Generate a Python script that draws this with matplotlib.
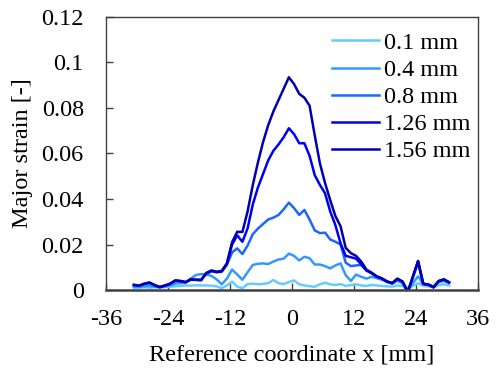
import matplotlib
matplotlib.use('Agg')
import matplotlib.pyplot as plt
from matplotlib.ticker import FuncFormatter

# reference coordinate x [mm]
x_mm = [-30.6, -29.6, -28.6, -27.6, -26.6, -25.6, -24.6, -23.6, -22.6, -21.6,
        -20.6, -19.6, -18.6, -17.6, -16.6, -15.6, -14.6, -13.6, -12.6, -11.6,
        -10.6, -9.6, -8.6, -7.6, -6.6, -5.6, -4.6, -3.6, -2.6, -1.6,
        -0.6, 0.4, 1.4, 2.4, 3.4, 4.4, 5.4, 6.4, 7.4, 8.4,
        9.4, 10.4, 11.4, 12.4, 13.4, 14.4, 15.4, 16.4, 17.4, 18.4,
        19.4, 20.4, 21.4, 22.4, 23.4, 24.4, 25.4, 26.4, 27.4, 28.4,
        29.4, 30.4]

strain_01 = [0.0008, 0.0010, 0.0012, 0.0010, 0.0012, 0.0010, 0.0013, 0.0015, 0.0016, 0.0018,
             0.0020, 0.0019, 0.0021, 0.0020, 0.0020, 0.0019, 0.0016, 0.0008, 0.0020, 0.0037,
             0.0015, 0.0008, 0.0026, 0.0028, 0.0025, 0.0027, 0.0030, 0.0044, 0.0030, 0.0026,
             0.0035, 0.0042, 0.0025, 0.0020, 0.0017, 0.0014, 0.0025, 0.0032, 0.0025, 0.0022,
             0.0026, 0.0018, 0.0022, 0.0025, 0.0020, 0.0018, 0.0022, 0.0020, 0.0018, 0.0016,
             0.0015, 0.0020, 0.0018, 0.0005, 0.0018, 0.0030, 0.0018, 0.0016, 0.0012, 0.0022,
             0.0025, 0.0020]

strain_04 = [0.0015, 0.0014, 0.0016, 0.0018, 0.0015, 0.0012, 0.0016, 0.0020, 0.0028, 0.0030,
             0.0032, 0.0050, 0.0066, 0.0070, 0.0068, 0.0062, 0.0047, 0.0025, 0.0050, 0.0090,
             0.0068, 0.0045, 0.0078, 0.0110, 0.0115, 0.0117, 0.0114, 0.0125, 0.0134, 0.0138,
             0.0160, 0.0150, 0.0130, 0.0146, 0.0140, 0.0112, 0.0112, 0.0105, 0.0095, 0.0108,
             0.0117, 0.0065, 0.0040, 0.0068, 0.0058, 0.0050, 0.0058, 0.0052, 0.0045, 0.0035,
             0.0028, 0.0040, 0.0030, 0.0005, 0.0030, 0.0060, 0.0025, 0.0022, 0.0015, 0.0035,
             0.0040, 0.0030]

strain_08 = [0.0020, 0.0018, 0.0025, 0.0030, 0.0020, 0.0013, 0.0018, 0.0026, 0.0040, 0.0038,
             0.0034, 0.0045, 0.0044, 0.0043, 0.0070, 0.0082, 0.0078, 0.0080, 0.0110, 0.0165,
             0.0183, 0.0158, 0.0195, 0.0245, 0.0270, 0.0290, 0.0310, 0.0318, 0.0330, 0.0355,
             0.0384, 0.0360, 0.0330, 0.0352, 0.0310, 0.0262, 0.0250, 0.0252, 0.0222, 0.0212,
             0.0200, 0.0120, 0.0105, 0.0108, 0.0110, 0.0088, 0.0074, 0.0058, 0.0050, 0.0037,
             0.0030, 0.0048, 0.0036, -0.0008, 0.0055, 0.0120, 0.0027, 0.0023, 0.0012, 0.0038,
             0.0045, 0.0033]

strain_126 = [0.0022, 0.0019, 0.0027, 0.0032, 0.0021, 0.0013, 0.0019, 0.0027, 0.0041, 0.0039,
              0.0034, 0.0046, 0.0045, 0.0044, 0.0073, 0.0084, 0.0079, 0.0082, 0.0115, 0.0200,
              0.0240, 0.0212, 0.0270, 0.0375, 0.0450, 0.0510, 0.0570, 0.0612, 0.0640, 0.0672,
              0.0711, 0.0685, 0.0645, 0.0645, 0.0590, 0.0505, 0.0462, 0.0425, 0.0345, 0.0285,
              0.0205, 0.0150, 0.0144, 0.0138, 0.0112, 0.0085, 0.0074, 0.0059, 0.0050, 0.0037,
              0.0030, 0.0049, 0.0036, -0.0010, 0.0058, 0.0126, 0.0027, 0.0024, 0.0012, 0.0039,
              0.0046, 0.0034]

strain_156 = [0.0023, 0.0019, 0.0028, 0.0033, 0.0022, 0.0013, 0.0020, 0.0028, 0.0042, 0.0040,
              0.0035, 0.0047, 0.0045, 0.0044, 0.0075, 0.0086, 0.0080, 0.0084, 0.0117, 0.0210,
              0.0256, 0.0255, 0.0345, 0.0460, 0.0560, 0.0650, 0.0725, 0.0785, 0.0835, 0.0885,
              0.0935, 0.0905, 0.0862, 0.0845, 0.0810, 0.0680, 0.0557, 0.0470, 0.0395, 0.0325,
              0.0280, 0.0185, 0.0162, 0.0150, 0.0125, 0.0090, 0.0076, 0.0060, 0.0051, 0.0038,
              0.0030, 0.0050, 0.0037, -0.0010, 0.0060, 0.0128, 0.0028, 0.0024, 0.0012, 0.0040,
              0.0047, 0.0034]

labels = ['0.1 mm', '0.4 mm', '0.8 mm', '1.26 mm', '1.56 mm']
colors = ['#66CCFF', '#3399FF', '#1A66FF', '#0000F0', '#0000B0']
series = [strain_01, strain_04, strain_08, strain_126, strain_156]

plt.rcParams['font.family'] = 'Liberation Serif'
plt.rcParams['axes.unicode_minus'] = False
fs = 17.5

fig = plt.figure(figsize=(4.96, 3.73), dpi=100)
ax = fig.add_axes([0.2137, 0.2225, 0.75, 0.732])

for vals, lab, col in zip(series, labels, colors):
    ax.plot(x_mm, vals, color=col, lw=1.8, label=lab)

ax.set_xlim(-36, 36)
ax.set_ylim(0, 0.12)
ax.set_xticks(range(-36, 37, 12))
ax.set_yticks([0, 0.02, 0.04, 0.06, 0.08, 0.1, 0.12])
ax.yaxis.set_major_formatter(FuncFormatter(lambda v, p: '%g' % round(v, 2)))
ax.tick_params(direction='in', length=5, width=1, color='#404040', labelsize=fs)
ax.tick_params(axis='y', pad=16)
ax.tick_params(axis='x', pad=14)

for side in ['left', 'right', 'top']:
    ax.spines[side].set_color('#404040')
    ax.spines[side].set_linewidth(1.0)
ax.spines['bottom'].set_color('#404040')
ax.spines['bottom'].set_linewidth(1.8)

ax.set_xlabel('Reference coordinate x [mm]', fontsize=fs, labelpad=10)
ax.set_ylabel('Major strain [-]', fontsize=fs, labelpad=6)

ax.legend(loc='upper left', bbox_to_anchor=(0.6075, 0.945), frameon=False,
          handlelength=1.93, handletextpad=0.2, labelspacing=0.21, fontsize=fs,
          borderaxespad=0, borderpad=0)

fig.savefig('out.png', dpi=100)
